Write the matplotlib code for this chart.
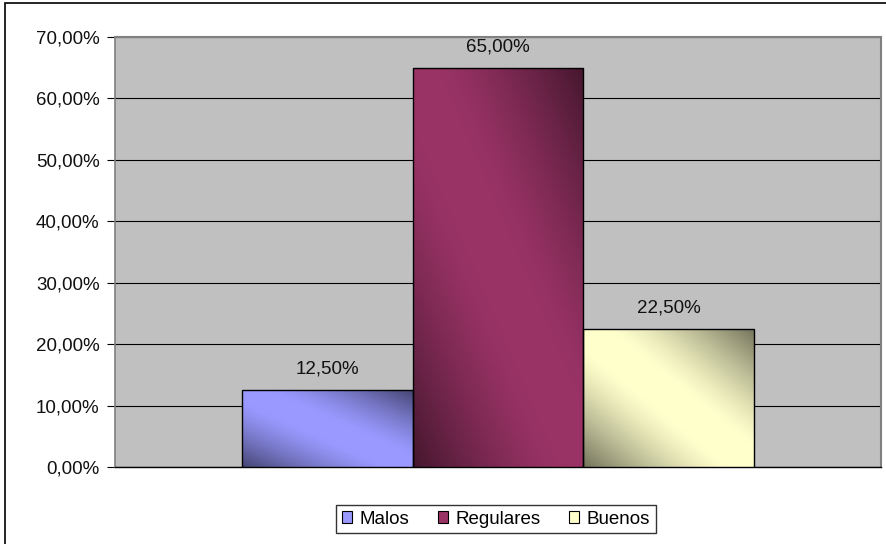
import numpy as np
import matplotlib.pyplot as plt
from matplotlib.patches import Rectangle, Patch
from matplotlib.colors import to_rgb
from matplotlib.ticker import FuncFormatter

categorias = ["Malos", "Regulares", "Buenos"]
porcentajes = [12.5, 65.0, 22.5]
colores = ["#9999FF", "#993366", "#FFFFCC"]
etiquetas = ["12,50%", "65,00%", "22,50%"]

plt.rcParams['font.family'] = ['Liberation Sans', 'DejaVu Sans']

fig = plt.figure(figsize=(8.87, 5.44), dpi=100)
ax = fig.add_axes([115 / 887, 77 / 544, 766 / 887, 430 / 544])
ax.set_facecolor("#C0C0C0")

ancho = 1.0
posiciones = np.array([-1.0, 0.0, 1.0])
tam = 13.5


def degradado(ax, barra, color):
    # diagonal shading: dark at bottom-left and top-right corners
    x0, y0 = barra.get_x(), barra.get_y()
    w, h = barra.get_width(), barra.get_height()
    n = 200
    xn, yn = np.meshgrid(np.linspace(0, 1, n), np.linspace(0, 1, n))
    u = (xn + yn) / 2
    d = np.abs(2 * u - 1)
    sombra = 1 - 0.55 * np.clip((d - 0.15) / 0.85, 0, 1) ** 1.3
    base = np.array(to_rgb(color))
    img = sombra[..., None] * base[None, None, :]
    im = ax.imshow(img, extent=[x0, x0 + w, y0, y0 + h], origin='lower',
                   aspect='auto', zorder=3, interpolation='bilinear')
    im.set_clip_path(barra)


barras = ax.bar(posiciones, porcentajes, width=ancho, color=colores,
                edgecolor="black", linewidth=1.0, zorder=4)
for b, c in zip(barras, colores):
    b.set_facecolor("none")
    degradado(ax, b, c)

for x, v, t in zip(posiciones, porcentajes, etiquetas):
    ax.text(x, v + 2.0, t, ha='center', va='bottom', fontsize=tam, color="#111111")

ax.set_xlim(-2.24, 2.24)
ax.set_ylim(0, 70)
ax.set_yticks(np.arange(0, 71, 10))
ax.yaxis.set_major_formatter(FuncFormatter(lambda v, p: f"{v:.2f}%".replace(".", ",")))
ax.tick_params(axis='y', labelsize=tam, labelcolor="#111111", length=6, width=0.8,
               color="black", pad=5)
ax.set_xticks([])
ax.grid(axis='y', color="#000000", linewidth=0.8, zorder=1)
ax.set_axisbelow(True)

for lado in ['top', 'right']:
    ax.spines[lado].set_color("#808080")
    ax.spines[lado].set_linewidth(1.5)
ax.spines['left'].set_color("#808080")
ax.spines['left'].set_linewidth(1.2)
ax.spines['bottom'].set_color("black")
ax.spines['bottom'].set_linewidth(1.0)

manejadores = [Patch(facecolor=c, edgecolor="black", linewidth=0.8) for c in colores]
ley = fig.legend(manejadores, categorias, loc='center', bbox_to_anchor=(496 / 887, 1 - 519 / 544),
                 ncol=3, frameon=True, fancybox=False, fontsize=tam,
                 handlelength=0.55, handleheight=0.55, handletextpad=0.4, columnspacing=1.5,
                 borderpad=0.3, borderaxespad=0)
ley.get_frame().set_edgecolor("black")
ley.get_frame().set_linewidth(1.0)

fig.patches.append(Rectangle((5 / 887, -0.1), 1.0, 1.1 - 3.5 / 544, transform=fig.transFigure,
                             fill=False, edgecolor="black", linewidth=1.2))

fig.savefig("out.png", dpi=100)
